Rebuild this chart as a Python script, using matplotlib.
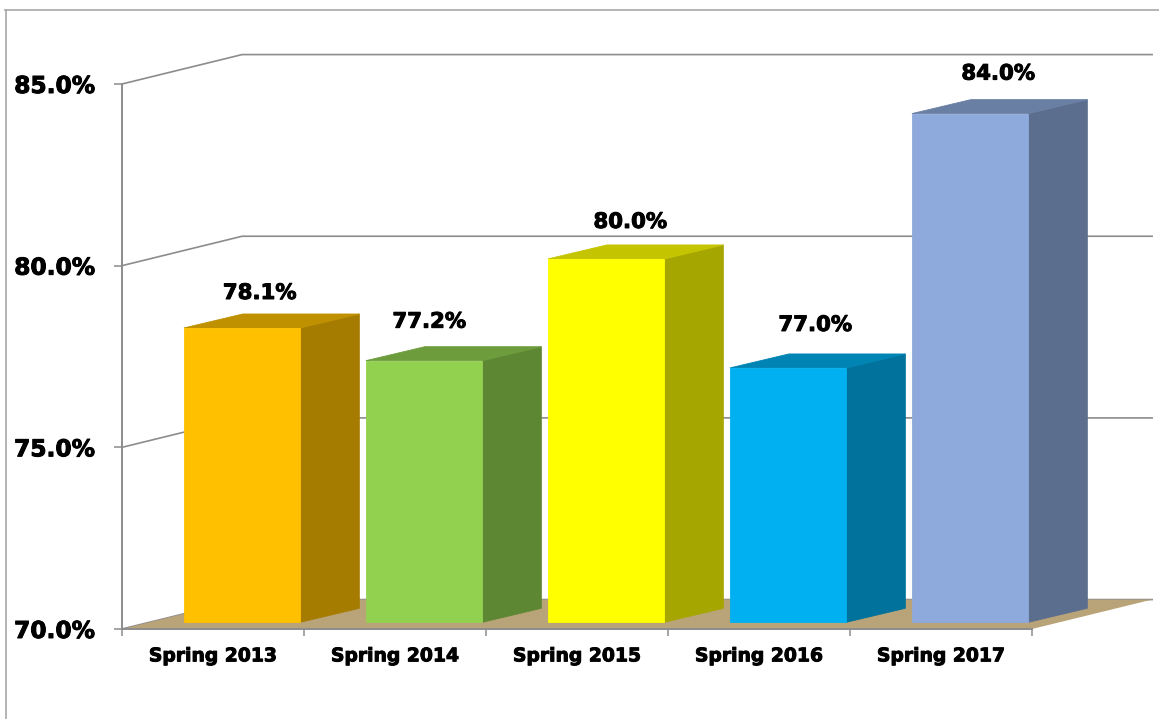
import matplotlib

matplotlib.use("Agg")
import matplotlib.patheffects as pe
import matplotlib.pyplot as plt
from matplotlib.lines import Line2D

categories = ["Spring 2013", "Spring 2014", "Spring 2015", "Spring 2016", "Spring 2017"]
values = [78.1, 77.2, 80.0, 77.0, 84.0]
y_ticks = [70.0, 75.0, 80.0, 85.0]

front_colors = ["#FFC000", "#92D050", "#FFFF00", "#00B0F0", "#8EA9DB"]
side_colors = ["#A67C00", "#5E8733", "#A6A600", "#00729C", "#5C6E8E"]
top_colors = ["#BF9000", "#6D9C3C", "#C4C400", "#0084B4", "#6A7FA4"]

GRAY = "#8C8C8C"
FLOOR = "#B9A378"

# fake 3d geometry, x in category widths and y in axis units
WALL_DX = 0.66
WALL_DY = 0.81
BAR_LEFT = 0.34
BAR_W = 0.64
BAR_DX = 0.324
BAR_DY = 0.385
BAR_LIFT = 0.185

# hand placed labels in the original, pixels from the bar's front centre / back top
label_dx = [17.5, 5, 24, 27, 28]
label_dy = [21, 25, 23, 29, 26]

# the reference text is heavier than plain bold
heavy = [pe.withStroke(linewidth=0.7, foreground="black")]

W, H = 1159, 719
fig = plt.figure(figsize=(W / 100, H / 100), dpi=100, facecolor="white")
ax = fig.add_axes([122 / W, (H - 629) / H, (1032 - 122) / W, (629 - 84) / H])
ax.set_xlim(0, len(categories))
ax.set_ylim(70, 85)
ax.patch.set_visible(False)

# back wall gridlines
for tick in y_ticks:
    ax.plot([0, WALL_DX, len(categories) + WALL_DX], [tick, tick + WALL_DY, tick + WALL_DY],
            color=GRAY, lw=1.2, clip_on=False, zorder=1)

# floor
n = len(categories)
base = y_ticks[0]
ax.fill([0, n, n + WALL_DX, WALL_DX], [base, base, base + WALL_DY, base + WALL_DY],
        color=FLOOR, lw=0, clip_on=False, zorder=2)

# bars
for i, value in enumerate(values):
    x0 = i + BAR_LEFT
    x1 = x0 + BAR_W
    y0 = base + BAR_LIFT
    y1 = value + BAR_LIFT
    ax.fill([x1, x1 + BAR_DX, x1 + BAR_DX, x1], [y0, y0 + BAR_DY, y1 + BAR_DY, y1],
            color=side_colors[i], lw=0.6, clip_on=False, zorder=3)
    ax.fill([x0, x1, x1 + BAR_DX, x0 + BAR_DX], [y1, y1, y1 + BAR_DY, y1 + BAR_DY],
            color=top_colors[i], lw=0.6, clip_on=False, zorder=3)
    ax.bar(x0 + BAR_W / 2, value - base, BAR_W, bottom=y0, color=front_colors[i],
           edgecolor=front_colors[i], lw=0.6, clip_on=False, zorder=4)
    ax.annotate(f"{value:.1f}%", (x0 + BAR_W / 2, y1 + BAR_DY),
                xytext=(label_dx[i] * 0.72, label_dy[i] * 0.72), textcoords="offset points",
                ha="center", va="center", fontsize=15.3, fontweight="bold",
                family="DejaVu Sans", color="black", annotation_clip=False, zorder=5,
                path_effects=heavy)

for side in ("top", "right"):
    ax.spines[side].set_visible(False)
for side in ("left", "bottom"):
    ax.spines[side].set_color(GRAY)
    ax.spines[side].set_linewidth(1.4)
    ax.spines[side].set_zorder(6)

ax.set_yticks(y_ticks)
ax.set_yticklabels([f"{t:.1f}%" for t in y_ticks], fontsize=16.8, fontweight="bold", family="DejaVu Sans",
                   path_effects=heavy)
ax.tick_params(axis="y", length=5.8, width=1.1, color=GRAY, pad=13.5)

# ticks between the categories, labels in the middle of them
ax.set_xticks(range(n + 1))
ax.set_xticklabels([])
ax.set_xticks([i + 0.5 for i in range(n)], minor=True)
ax.set_xticklabels(categories, minor=True, fontsize=13.5, fontweight="bold", family="DejaVu Sans",
                   path_effects=heavy)
ax.tick_params(axis="x", which="major", length=5, width=1.1, color=GRAY)
ax.tick_params(axis="x", which="minor", length=0, pad=12.5)

# frame of the pasted picture
fig.add_artist(Line2D([5 / W, 1], [1 - 9.5 / H, 1 - 9.5 / H], color="#A0A0A0", lw=1.1))
fig.add_artist(Line2D([5.5 / W, 5.5 / W], [0, 1 - 9.5 / H], color="#A0A0A0", lw=1.1))

fig.savefig("out.png", dpi=100)
